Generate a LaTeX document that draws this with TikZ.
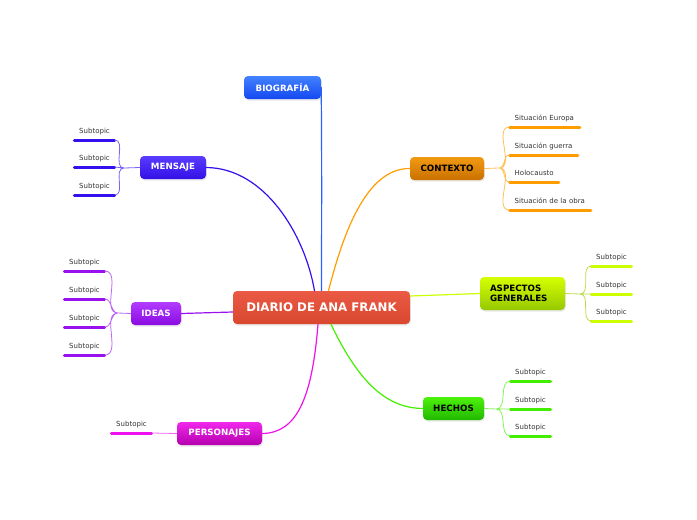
\documentclass[tikz,border=0pt]{standalone}
\usepackage{fontspec}
\setmainfont{DejaVu Sans}
\usetikzlibrary{shadows}
\definecolor{DiarioTop}{HTML}{EA5A44}
\definecolor{DiarioBot}{HTML}{D9472F}
\definecolor{BioBlue}{HTML}{2A60FF}
\definecolor{BioTop}{HTML}{4282FF}
\definecolor{BioBot}{HTML}{1448F0}
\definecolor{MensajeBlue}{HTML}{3311EE}
\definecolor{MensajeTop}{HTML}{5A3CFF}
\definecolor{MensajeBot}{HTML}{3210E6}
\definecolor{ContextoOrange}{HTML}{FF9C00}
\definecolor{ContextoTop}{HTML}{F39A12}
\definecolor{ContextoBot}{HTML}{C97000}
\definecolor{AspectosGreen}{HTML}{CCFF00}
\definecolor{AspectosTop}{HTML}{D6FF00}
\definecolor{AspectosBot}{HTML}{96C800}
\definecolor{IdeasPurple}{HTML}{9911EE}
\definecolor{IdeasTop}{HTML}{B23CFF}
\definecolor{IdeasBot}{HTML}{8A0BE0}
\definecolor{PersonajesPink}{HTML}{EE11EE}
\definecolor{PersonajesTop}{HTML}{F028EC}
\definecolor{PersonajesBot}{HTML}{B500AE}
\definecolor{HechosGreen}{HTML}{44EE00}
\definecolor{HechosTop}{HTML}{4CF20A}
\definecolor{HechosBot}{HTML}{22B800}

\begin{document}
\begin{tikzpicture}[x=1pt,y=-1pt,line cap=round,line join=round,
  topic/.style={rounded corners=4pt,minimum height=23pt,inner sep=0pt,
    font=\bfseries\fontsize{8.7}{10.5}\selectfont,
    drop shadow={opacity=.18,shadow xshift=.8pt,shadow yshift=-1.5pt}},
  sub/.style={anchor=south,minimum width=40pt,inner xsep=0pt,inner ysep=4.5pt,
    text height=5pt,text depth=1.4pt,font=\fontsize{7}{8}\selectfont,text=black!80},
  ctx/.style={sub,anchor=south west,minimum width=0pt,inner xsep=5pt,align=left},
  branch/.style={line width=1.2pt},
  twig/.style={line width=.8pt},
  stroke/.style={line width=3pt}]
  \useasboundingbox (0,0) rectangle (697,520);

  \node[topic,minimum width=177pt,minimum height=33pt,top color=DiarioTop,bottom color=DiarioBot,text=white,font=\bfseries\fontsize{11.8}{14}\selectfont] (diario) at (321.5,307.5) {DIARIO DE ANA FRANK};
  \node[topic,minimum width=77pt,top color=BioTop,bottom color=BioBot,text=white] (bio) at (282.5,87.5) {BIOGRAFÍA};
  \node[topic,minimum width=66pt,top color=MensajeTop,bottom color=MensajeBot,text=white] (mensaje) at (173,167.5) {MENSAJE};
  \node[topic,minimum width=74pt,top color=ContextoTop,bottom color=ContextoBot] (contexto) at (447,168.5) {CONTEXTO};
  \node[topic,minimum width=85pt,minimum height=33pt,text width=65pt,top color=AspectosTop,bottom color=AspectosBot,align=left] (aspectos) at (522.5,293.5) {ASPECTOS\\GENERALES};
  \node[topic,minimum width=50pt,top color=IdeasTop,bottom color=IdeasBot,text=white] (ideas) at (156,313.5) {IDEAS};
  \node[topic,minimum width=85pt,top color=PersonajesTop,bottom color=PersonajesBot,text=white] (personajes) at (219.5,433.5) {PERSONAJES};
  \node[topic,minimum width=61pt,top color=HechosTop,bottom color=HechosBot] (hechos) at (453.5,408.5) {HECHOS};

  \draw[branch,BioBlue] (bio.east) .. controls (322,170) and (321.5,240) .. (diario.north);
  \draw[branch,MensajeBlue] (mensaje.east) .. controls (265,168) and (305,235) .. ([xshift=-7pt]diario.north);
  \draw[branch,ContextoOrange] ([xshift=7pt]diario.north) .. controls (342,238) and (365,168) .. (contexto.west);
  \draw[branch,AspectosGreen] ([yshift=11.5pt]diario.east) -- (aspectos.west);
  \draw[branch,IdeasPurple] ([yshift=-4.5pt]diario.west) -- (ideas.east);
  \draw[branch,PersonajesPink] ([xshift=-3.5pt]diario.south) .. controls (312,400) and (296,433) .. (personajes.east);
  \draw[branch,HechosGreen] ([xshift=9.5pt]diario.south) .. controls (360,385) and (388,408) .. (hechos.west);

  \node[sub] (m1) at (94.5,140) {Subtopic}; \node[sub] (m2) at (94.5,167) {Subtopic}; \node[sub] (m3) at (94.5,195) {Subtopic};
  \coordinate (mj) at (124,168);
  \draw[stroke,MensajeBlue] (m1.south west) -- (m1.south east) (m2.south west) -- (m2.south east) (m3.south west) -- (m3.south east);
  \draw[twig,MensajeBlue!65] (mensaje.west) -- (mj) (mj) to[out=180,in=0] (m1.south east) (mj) to[out=180,in=0] (m2.south east) (mj) to[out=180,in=0] (m3.south east);

  \node[ctx,text width=60pt] (c1) at (509.5,127) {Situación Europa}; \node[ctx,text width=58pt] (c2) at (509.5,155) {Situación guerra};
  \node[ctx,text width=39pt] (c3) at (509.5,182) {Holocausto}; \node[ctx,text width=71pt] (c4) at (509.5,210) {Situación de la obra};
  \coordinate (cj) at (499,168);
  \draw[stroke,ContextoOrange] (c1.south west) -- (c1.south east) (c2.south west) -- (c2.south east) (c3.south west) -- (c3.south east) (c4.south west) -- (c4.south east);
  \draw[twig,ContextoOrange!65] (contexto.east) -- (cj) (cj) to[out=0,in=180] (c1.south west) (cj) to[out=0,in=180] (c2.south west) (cj) to[out=0,in=180] (c3.south west) (cj) to[out=0,in=180] (c4.south west);

  \node[sub] (a1) at (611.5,266) {Subtopic}; \node[sub] (a2) at (611.5,294) {Subtopic}; \node[sub] (a3) at (611.5,321) {Subtopic};
  \coordinate (aj) at (580,294);
  \draw[stroke,AspectosGreen] (a1.south west) -- (a1.south east) (a2.south west) -- (a2.south east) (a3.south west) -- (a3.south east);
  \draw[twig,AspectosGreen!80!black!70] (aspectos.east) -- (aj) (aj) to[out=0,in=180] (a1.south west) (aj) to[out=0,in=180] (a2.south west) (aj) to[out=0,in=180] (a3.south west);

  \node[sub] (i1) at (84.5,271) {Subtopic}; \node[sub] (i2) at (84.5,299) {Subtopic}; \node[sub] (i3) at (84.5,327) {Subtopic}; \node[sub] (i4) at (84.5,355) {Subtopic};
  \coordinate (ij) at (118,313);
  \draw[stroke,IdeasPurple] (i1.south west) -- (i1.south east) (i2.south west) -- (i2.south east) (i3.south west) -- (i3.south east) (i4.south west) -- (i4.south east);
  \draw[twig,IdeasPurple!65] (ideas.west) -- (ij) (ij) to[out=180,in=0] (i1.south east) (ij) to[out=180,in=0] (i2.south east) (ij) to[out=180,in=0] (i3.south east) (ij) to[out=180,in=0] (i4.south east);

  \node[sub] (p1) at (131.5,433) {Subtopic};
  \draw[stroke,PersonajesPink] (p1.south west) -- (p1.south east);
  \draw[twig,PersonajesPink!65] (personajes.west) -- (p1.south east);

  \node[sub] (h1) at (530.5,381) {Subtopic}; \node[sub] (h2) at (530.5,409) {Subtopic}; \node[sub] (h3) at (530.5,436) {Subtopic};
  \coordinate (hj) at (496,409);
  \draw[stroke,HechosGreen] (h1.south west) -- (h1.south east) (h2.south west) -- (h2.south east) (h3.south west) -- (h3.south east);
  \draw[twig,HechosGreen!65] (hechos.east) -- (hj) (hj) to[out=0,in=180] (h1.south west) (hj) to[out=0,in=180] (h2.south west) (hj) to[out=0,in=180] (h3.south west);
\end{tikzpicture}
\end{document}
